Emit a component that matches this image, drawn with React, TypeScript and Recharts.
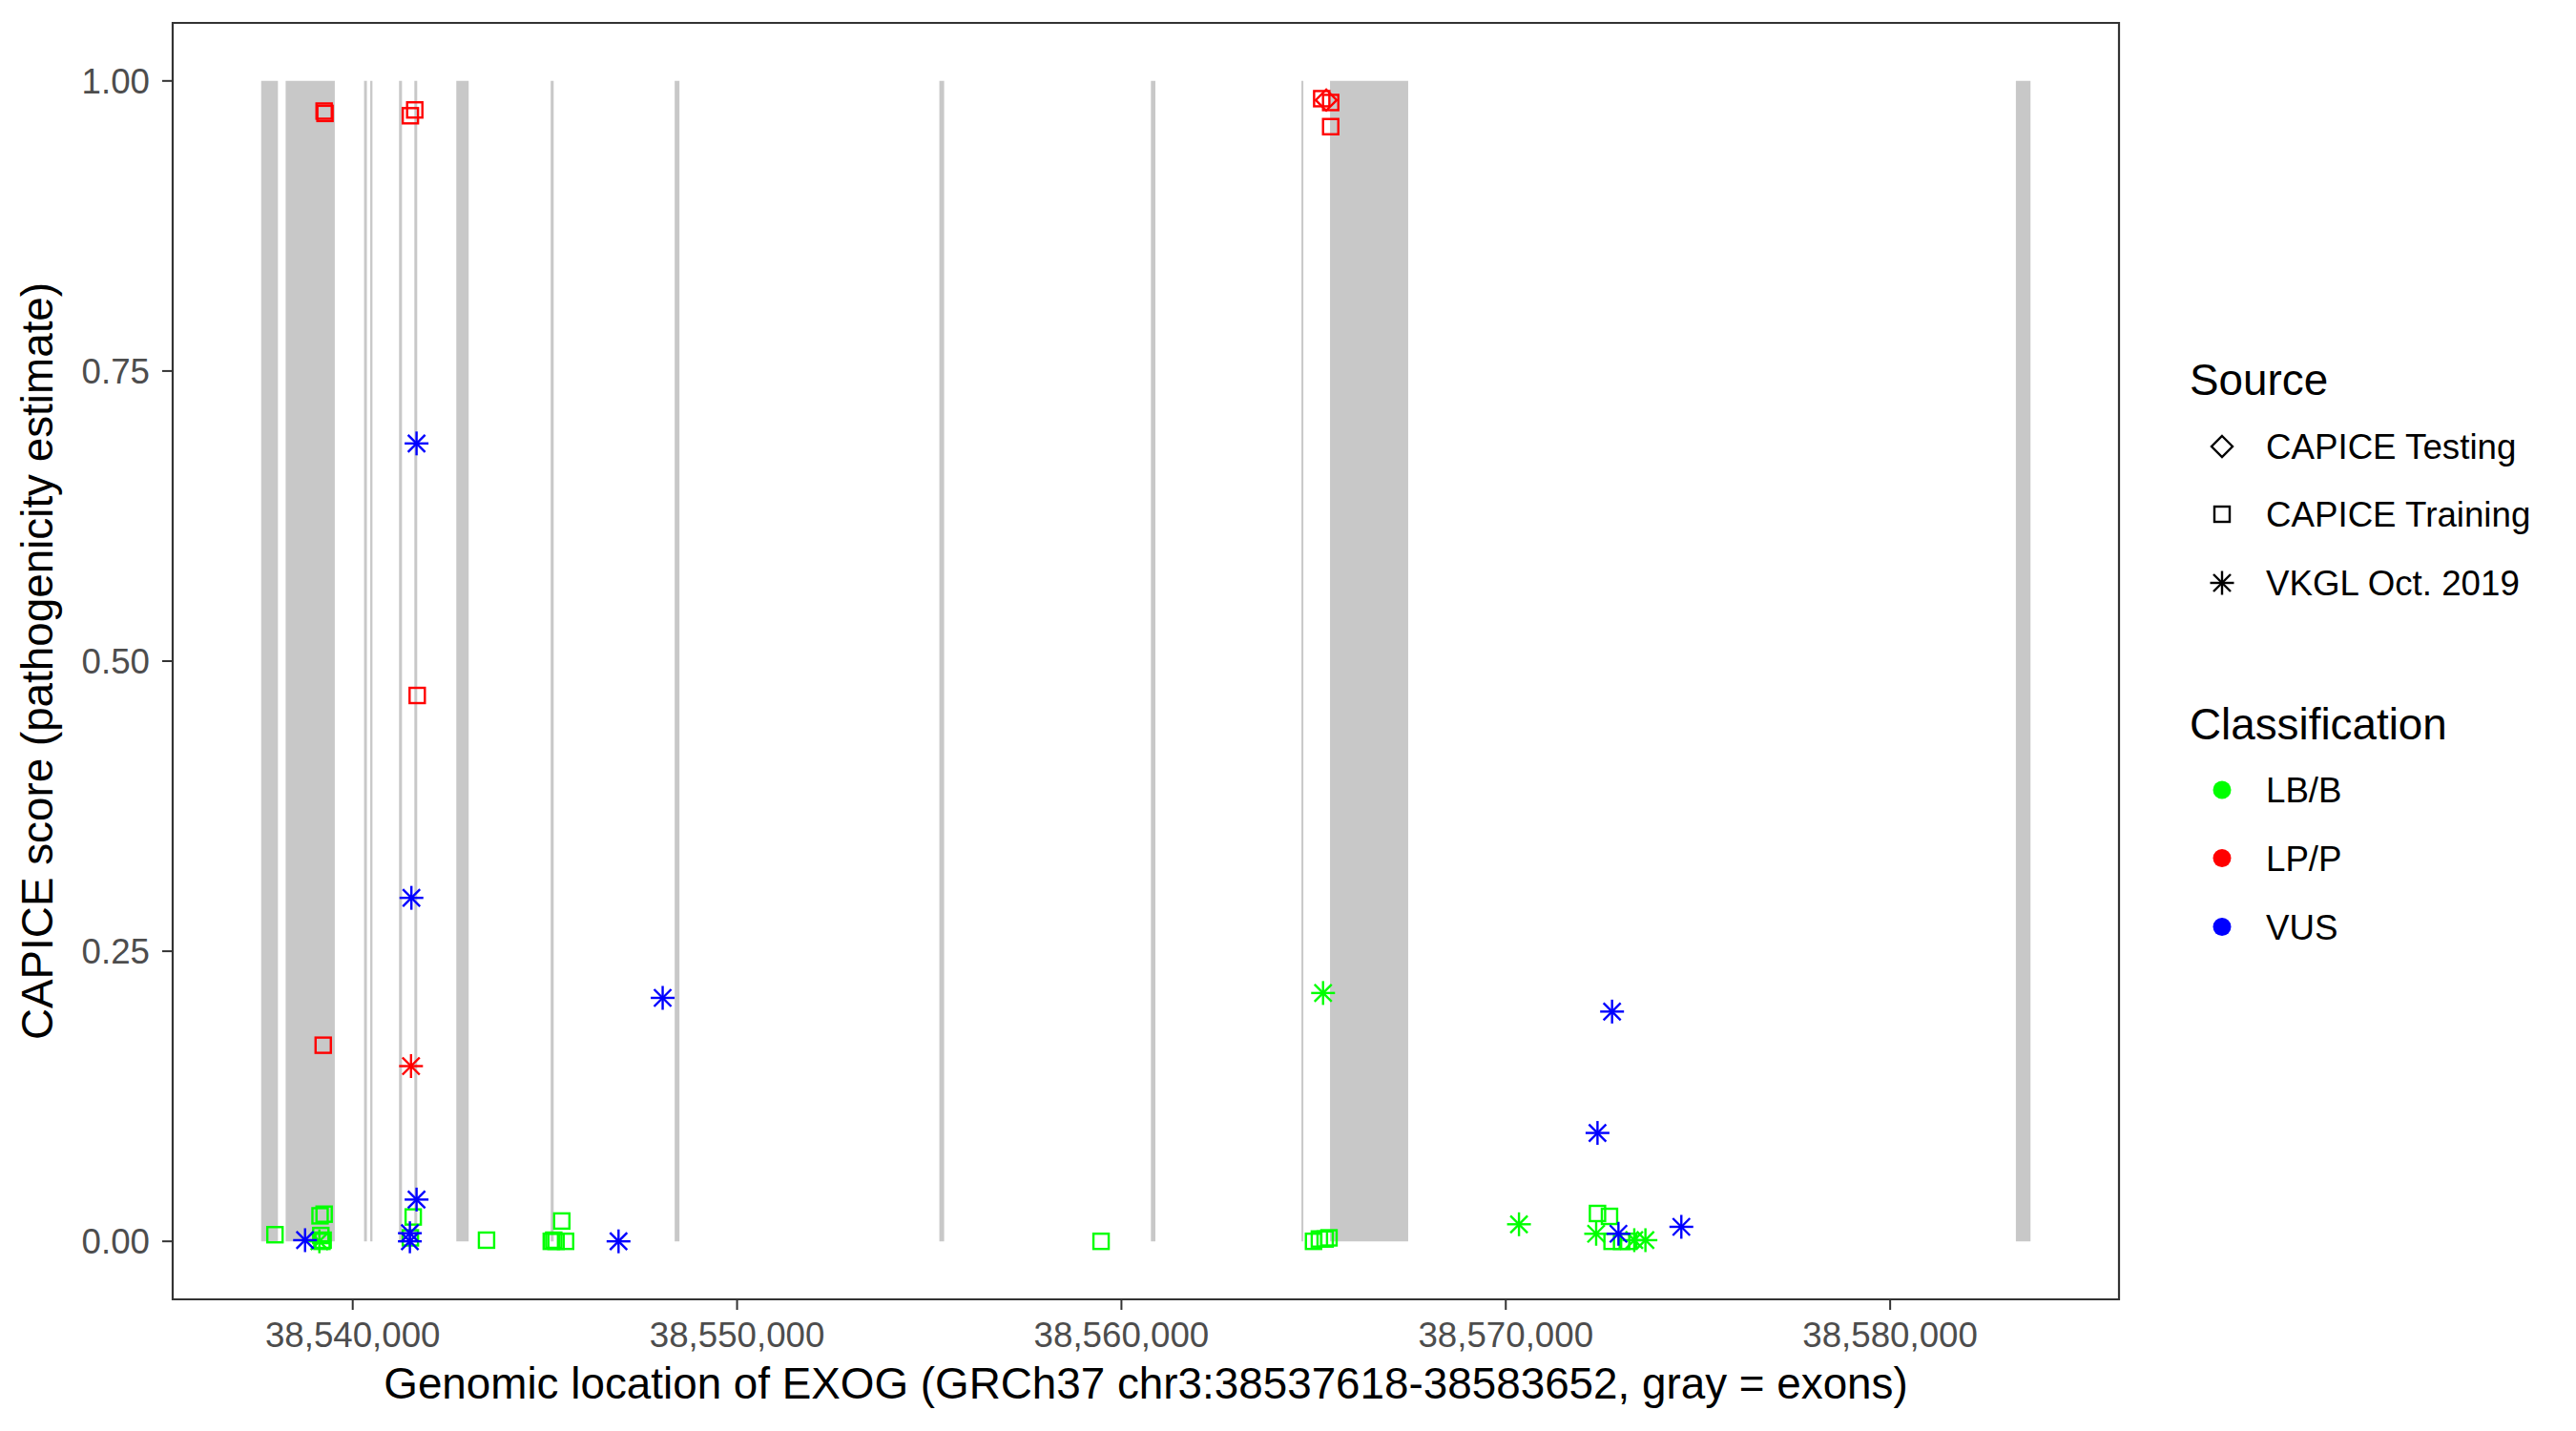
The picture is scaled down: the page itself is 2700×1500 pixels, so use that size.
import React from 'react';
import { ScatterChart, Scatter, XAxis, YAxis, ReferenceArea, Legend } from 'recharts';

// ---- axes ----
const xDomain = [38535316, 38585954];
const yDomain = [-0.05, 1.05];
const xTicks = [38540000, 38550000, 38560000, 38570000, 38580000];
const yTicks = [0, 0.25, 0.5, 0.75, 1];

// ---- exons (gray) ----
const exonStarts = [38537618, 38538255, 38540295, 38540456, 38541205, 38541604, 38542695, 38545151, 38548377, 38555263, 38560767, 38564683, 38565427, 38583271];
const exonEnds = [38538054, 38539534, 38540369, 38540513, 38541282, 38541678, 38543017, 38545228, 38548501, 38555387, 38560883, 38564733, 38567460, 38583652];

// ---- legend ----
const sourceNames = ['CAPICE Testing', 'CAPICE Training', 'VKGL Oct. 2019'];
const classNames = ['LB/B', 'LP/P', 'VUS'];
const classColors = ['#00FF00', '#FF0000', '#0000FF'];

// ---- data: CAPICE Training (squares) ----
const trainingLBB = [
  { pos: 38537977, score: 0.0057 },
  { pos: 38539150, score: 0.022 },
  { pos: 38539256, score: 0.0234 },
  { pos: 38539170, score: 0.005 },
  { pos: 38539200, score: 0.0 },
  { pos: 38539230, score: 0.001 },
  { pos: 38541574, score: 0.021 },
  { pos: 38541500, score: 0.003 },
  { pos: 38543481, score: 0.001 },
  { pos: 38545166, score: 0.0 },
  { pos: 38545230, score: 0.001 },
  { pos: 38545290, score: 0.0 },
  { pos: 38545439, score: 0.0175 },
  { pos: 38545538, score: 0.0 },
  { pos: 38559470, score: 0.0 },
  { pos: 38564998, score: 0.0 },
  { pos: 38565150, score: 0.002 },
  { pos: 38565300, score: 0.002 },
  { pos: 38565400, score: 0.003 },
  { pos: 38572386, score: 0.024 },
  { pos: 38572698, score: 0.0215 },
  { pos: 38572765, score: 0.0 },
  { pos: 38573013, score: 0.0 },
  { pos: 38573200, score: 0.0 },
];
const trainingLPP = [
  { pos: 38539256, score: 0.974 },
  { pos: 38539279, score: 0.972 },
  { pos: 38541500, score: 0.970 },
  { pos: 38541614, score: 0.975 },
  { pos: 38541678, score: 0.4704 },
  { pos: 38539232, score: 0.169 },
  { pos: 38565211, score: 0.9847 },
  { pos: 38565444, score: 0.9814 },
  { pos: 38565444, score: 0.9606 },
];

// ---- data: CAPICE Testing (diamonds) ----
const testingLPP = [
  { pos: 38565328, score: 0.9835 },
];

// ---- data: VKGL Oct. 2019 (asterisks) ----
const vkglLBB = [
  { pos: 38539132, score: 0.0 },
  { pos: 38565246, score: 0.214 },
  { pos: 38570343, score: 0.0147 },
  { pos: 38572351, score: 0.0065 },
  { pos: 38573343, score: 0.001 },
  { pos: 38573633, score: 0.001 },
];
const vkglLPP = [
  { pos: 38541517, score: 0.151 },
];
const vkglVUS = [
  { pos: 38538760, score: 0.001 },
  { pos: 38541661, score: 0.6876 },
  { pos: 38541527, score: 0.296 },
  { pos: 38541661, score: 0.036 },
  { pos: 38541487, score: 0.007 },
  { pos: 38541487, score: 0.0 },
  { pos: 38546916, score: 0.0 },
  { pos: 38548064, score: 0.2098 },
  { pos: 38572765, score: 0.198 },
  { pos: 38572386, score: 0.0934 },
  { pos: 38572931, score: 0.0065 },
  { pos: 38574567, score: 0.0125 },
];

const FONT = '"Liberation Sans", Arial, Helvetica, sans-serif';
const SW = 2.4;

const SquareMark = ({ cx, cy, color }: any) => (
  <rect x={cx - 8} y={cy - 8} width={16} height={16} fill="none" stroke={color} strokeWidth={SW} />
);
const DiamondMark = ({ cx, cy, color }: any) => (
  <polygon points={`${cx},${cy - 11} ${cx + 11},${cy} ${cx},${cy + 11} ${cx - 11},${cy}`} fill="none" stroke={color} strokeWidth={SW} />
);
const StarMark = ({ cx, cy, color }: any) => (
  <g stroke={color} strokeWidth={SW} strokeLinecap="butt">
    <line x1={cx - 12.5} y1={cy} x2={cx + 12.5} y2={cy} />
    <line x1={cx} y1={cy - 12.5} x2={cx} y2={cy + 12.5} />
    <line x1={cx - 9} y1={cy - 9} x2={cx + 9} y2={cy + 9} />
    <line x1={cx - 9} y1={cy + 9} x2={cx + 9} y2={cy - 9} />
  </g>
);

const mk = (Comp: any, color: string) => (p: any) => <Comp cx={p.cx} cy={p.cy} color={color} />;

const fmtX = (v: number) => v.toLocaleString('en-US');
const fmtY = (v: number) => v.toFixed(2);

const YTitle = () => (
  <text x={55} y={693} transform="rotate(-90 55 693)" textAnchor="middle" fontFamily={FONT} fontSize={45.8} fill="#000">
    CAPICE score (pathogenicity estimate)
  </text>
);
const XTitle = () => (
  <text x={1201} y={1466} textAnchor="middle" fontFamily={FONT} fontSize={45.8} fill="#000">
    Genomic location of EXOG (GRCh37 chr3:38537618-38583652, gray = exons)
  </text>
);

const LegendBox = () => {
  const srcY = [468, 539, 611];
  const clsY = [828, 899.5, 971.5];
  const kx = 2329;
  return (
    <svg width={2700} height={1500} style={{ position: 'absolute', left: 0, top: 0 }}>
      <text x={2295} y={414} fontFamily={FONT} fontSize={45.8} fill="#000">Source</text>
      <DiamondMark cx={kx} cy={srcY[0]} color="#000" />
      <SquareMark cx={kx} cy={srcY[1]} color="#000" />
      <StarMark cx={kx} cy={srcY[2]} color="#000" />
      {sourceNames.map((s, i) => (
        <text key={s} x={2375} y={srcY[i] + 13} fontFamily={FONT} fontSize={36.7} fill="#000">{s}</text>
      ))}
      <text x={2295} y={775} fontFamily={FONT} fontSize={45.8} fill="#000">Classification</text>
      {classNames.map((c, i) => (
        <g key={c}>
          <circle cx={kx} cy={clsY[i]} r={9.5} fill={classColors[i]} />
          <text x={2375} y={clsY[i] + 13} fontFamily={FONT} fontSize={36.7} fill="#000">{c}</text>
        </g>
      ))}
    </svg>
  );
};

export default function App() {
  const tickStyle = { fill: '#4D4D4D', fontSize: 36.7, fontFamily: FONT };
  return (
    <div style={{ position: 'absolute', left: 0, top: 0, width: 2700, height: 1500, background: '#fff' }}>
      <ScatterChart width={2700} height={1500} margin={{ top: 24, right: 479, bottom: 38, left: 41 }}>
        <XAxis
          type="number"
          dataKey="pos"
          domain={xDomain}
          ticks={xTicks}
          allowDataOverflow
          tickFormatter={fmtX}
          tick={tickStyle}
          tickSize={11}
          tickMargin={13}
          tickLine={{ stroke: '#333333', strokeWidth: 2 }}
          axisLine={false}
          height={100}
          label={{ content: () => <XTitle /> }}
        />
        <YAxis
          type="number"
          dataKey="score"
          domain={yDomain}
          ticks={yTicks}
          allowDataOverflow
          tickFormatter={fmtY}
          tick={tickStyle}
          tickSize={11}
          tickMargin={13}
          tickLine={{ stroke: '#333333', strokeWidth: 2 }}
          axisLine={false}
          width={140}
          label={{ content: () => <YTitle /> }}
        />
        {exonStarts.map((s, i) => (
          <ReferenceArea key={'ex' + i} x1={s} x2={exonEnds[i]} y1={0} y2={1} fill="#C8C8C8" fillOpacity={1} stroke="none" />
        ))}
        <ReferenceArea x1={xDomain[0]} x2={xDomain[1]} y1={yDomain[0]} y2={yDomain[1]} fill="none" stroke="#333333" strokeWidth={2.2} />
        <Scatter name="train-lbb" data={trainingLBB} isAnimationActive={false} shape={mk(SquareMark, classColors[0])} />
        <Scatter name="train-lpp" data={trainingLPP} isAnimationActive={false} shape={mk(SquareMark, classColors[1])} />
        <Scatter name="test-lpp" data={testingLPP} isAnimationActive={false} shape={mk(DiamondMark, classColors[1])} />
        <Scatter name="vkgl-lbb" data={vkglLBB} isAnimationActive={false} shape={mk(StarMark, classColors[0])} />
        <Scatter name="vkgl-lpp" data={vkglLPP} isAnimationActive={false} shape={mk(StarMark, classColors[1])} />
        <Scatter name="vkgl-vus" data={vkglVUS} isAnimationActive={false} shape={mk(StarMark, classColors[2])} />
        <Legend
          layout="horizontal"
          align="center"
          verticalAlign="middle"
          wrapperStyle={{ left: 0, top: 0, width: 2700, height: 1500, pointerEvents: 'none' }}
          content={() => <LegendBox />}
        />
      </ScatterChart>
    </div>
  );
}
